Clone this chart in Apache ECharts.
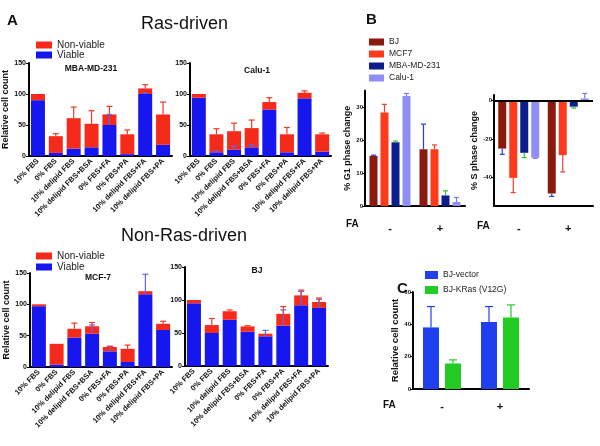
<!DOCTYPE html>
<html><head><meta charset="utf-8">
<script src="https://cdn.jsdelivr.net/npm/echarts@6/dist/echarts.min.js"></script>
<style>html,body{margin:0;padding:0;background:#fff}#c{width:600px;height:446px}</style>
</head><body><div id="c"></div>
<script>
// ---------- DATA ----------
const conditions = ['10% FBS','0% FBS','10% delipid FBS','10% delipid FBS+BSA','0% FBS+FA','0% FBS+PA','10% delipid FBS+FA','10% delipid FBS+PA'];

// MBA-MD-231
const mdaViable    = [90, 5, 12, 14, 50, 3, 100, 18];
const mdaNonviable = [10, 27, 49, 38, 17, 32, 9, 49];
const mdaTotalErr  = [0, 4, 18, 21, 13, 7, 6, 20];
const mdaViableErr = [0, 0, 0, 0, 17, 0, 2, 0];
// Calu-1
const caluViable    = [94, 6, 10, 14, 75, 6, 93, 7];
const caluNonviable = [6, 29, 30, 31, 12, 29, 9, 28];
const caluTotalErr  = [0, 9, 13, 13, 7, 11, 3, 2];
const caluViableErr = [0, 3, 6, 4, 0, 0, 0, 0];
// MCF-7
const mcfViable    = [97, 4, 47, 53, 25, 8, 116, 59];
const mcfNonviable = [3, 33, 14, 12, 7, 21, 5, 10];
const mcfTotalErr  = [0, 0, 9, 6, 1, 6, 0, 4];
const mcfViableErr = [0, 0, 0, 14, 8, 0, 32, 0];
// BJ
const bjViable    = [95, 50, 70, 52, 45, 61, 92, 88];
const bjNonviable = [5, 12, 13, 8, 4, 18, 15, 9];
const bjTotalErr  = [0, 10, 2, 1, 0, 11, 8, 6];
const bjViableErr = [0, 0, 0, 0, 9, 24, 21, 13];

// Panel B
const faGroups = ['-', '+'];
const cellLines = ['BJ', 'MCF7', 'MBA-MD-231', 'Calu-1'];
const g1Change = { 'BJ':[15.2, 17.2], 'MCF7':[28.3, 17.2], 'MBA-MD-231':[19.3, 3.2], 'Calu-1':[33.3, 1.2] };
const g1Err    = { 'BJ':[0.2, 7.6], 'MCF7':[2.5, 1.3], 'MBA-MD-231':[0.4, 1.4], 'Calu-1':[0.8, 1.4] };
const sChange  = { 'BJ':[-25, -48.5], 'MCF7':[-40.3, -28.4], 'MBA-MD-231':[-27.2, -3.1], 'Calu-1':[-29.8, 1.2] };
const sErr     = { 'BJ':[3, 1.5], 'MCF7':[7.7, 8.8], 'MBA-MD-231':[2.5, 0.7], 'Calu-1':[0.3, 2.6] };
const g1Ticks = [0, 10, 20, 30];
const sTicks = [-40, -20, 0];

// Panel C
const cLines = ['BJ-vector', 'BJ-KRas (V12G)'];
const cCount = { 'BJ-vector':[38.1, 41.4], 'BJ-KRas (V12G)':[15.8, 44.3] };
const cErr   = { 'BJ-vector':[12.9, 9.6], 'BJ-KRas (V12G)':[2.2, 7.7] };

// ---------- STYLE ----------
const FONT = '"Liberation Sans", Arial, sans-serif';
const RED = '#f52a1a', BLUE = '#1616ee';
const bColors = ['#8b1a0e', '#ff3a1c', '#0d1e8c', '#8e8ef5'];
const bErrColors = ['#2a3ad8', '#f0402a', '#3cc03c', '#7a7af0'];
const cColors = ['#2040f0', '#22cc22'];

const chart = echarts.init(document.getElementById('c'), null, {renderer:'canvas'});

const grids = [], xAxes = [], yAxes = [], series = [];

function errSeries(gi, data, color, offset, cap) {
  return {
    type:'custom', xAxisIndex:gi, yAxisIndex:gi, z:5, silent:true,
    data: data,
    renderItem: function(params, api) {
      const c = api.value(0), lo = api.value(1), hi = api.value(2);
      const p0 = api.coord([c, lo]), p1 = api.coord([c, hi]);
      const x = p0[0] + offset;
      const st = {stroke: color, lineWidth: 1.2};
      return {type:'group', children:[
        {type:'line', shape:{x1:x, y1:p0[1], x2:x, y2:p1[1]}, style:st},
        {type:'line', shape:{x1:x-cap/2, y1:p1[1], x2:x+cap/2, y2:p1[1]}, style:st}
      ]};
    }
  };
}

function aPanel(gi, rect, viable, nonviable, totErr, viaErr, showName) {
  grids.push(Object.assign({containLabel:false}, rect));
  xAxes.push({gridIndex:gi, type:'category', data:conditions,
    axisLine:{lineStyle:{color:'#000', width:2}},
    axisTick:{alignWithLabel:true, length:3, lineStyle:{color:'#000'}},
    axisLabel:{rotate:45, interval:0, fontSize:7.5, fontWeight:'bold', color:'#111', margin:4, fontFamily:FONT}});
  yAxes.push({gridIndex:gi, type:'value', min:0, max:150, interval:50,
    splitLine:{show:false},
    axisLine:{show:true, lineStyle:{color:'#000', width:2}},
    axisTick:{show:true, length:3, lineStyle:{color:'#000'}},
    axisLabel:{fontSize:7, fontWeight:'bold', color:'#111', margin:3, fontFamily:FONT},
    name: showName ? 'Relative cell count' : '', nameLocation:'middle', nameGap:16,
    nameTextStyle:{fontSize:9, fontWeight:'bold', color:'#111', fontFamily:FONT}});
  series.push({type:'bar', name:'Viable', xAxisIndex:gi, yAxisIndex:gi, stack:'st'+gi, barWidth:14, data:viable, itemStyle:{color:BLUE}});
  series.push({type:'bar', name:'Non-viable', xAxisIndex:gi, yAxisIndex:gi, stack:'st'+gi, barWidth:14, data:nonviable, itemStyle:{color:RED}});
  const vErr = [], tErr = [];
  viable.forEach((v, i) => {
    if (viaErr[i] > 0) vErr.push([i, v, v + viaErr[i]]);
    const t = v + nonviable[i];
    if (totErr[i] > 0) tErr.push([i, t, t + totErr[i]]);
  });
  series.push(errSeries(gi, vErr, '#5a6af0', 0, 6));
  series.push(errSeries(gi, tErr, '#f03a22', 0, 6));
}

aPanel(0, {left:29, top:63, width:143, height:93}, mdaViable, mdaNonviable, mdaTotalErr, mdaViableErr, true);
aPanel(1, {left:190, top:63, width:141, height:93}, caluViable, caluNonviable, caluTotalErr, caluViableErr, false);
aPanel(2, {left:30, top:273, width:142, height:94}, mcfViable, mcfNonviable, mcfTotalErr, mcfViableErr, true);
aPanel(3, {left:185, top:267, width:143, height:99}, bjViable, bjNonviable, bjTotalErr, bjViableErr, false);

function catX(gi, margin, fs) {
  return {gridIndex:gi, type:'category', data:faGroups,
    axisLine:{onZero:false, lineStyle:{color:'#000', width:2}},
    axisTick:{alignWithLabel:true, length:4, lineStyle:{color:'#000'}},
    axisLabel:{fontSize:fs, fontWeight:'bold', color:'#111', margin:margin, fontFamily:FONT}};
}
function valY(gi, min, max, ticks, name, gap, nfs) {
  return {gridIndex:gi, type:'value', min:min, max:max,
    splitLine:{show:false},
    axisLine:{show:true, onZero:false, lineStyle:{color:'#000', width:2}},
    axisTick:{show:true, length:3, customValues:ticks, lineStyle:{color:'#000'}},
    axisLabel:{fontSize:6, fontWeight:'bold', color:'#111', margin:2, customValues:ticks, fontFamily:FONT},
    name:name, nameLocation:'middle', nameGap:gap,
    nameTextStyle:{fontSize:nfs, fontWeight:'bold', color:'#111', fontFamily:FONT}};
}

// Panel B: G1
grids.push({left:365, top:90.5, width:100, height:115.5});
xAxes.push(catX(4, 17, 11));
yAxes.push(valY(4, 0, 35, g1Ticks, '% G1 phase change', 8, 9));
// Panel B: S
grids.push({left:494, top:95, width:99, height:111});
xAxes.push(catX(5, 17, 11));
yAxes.push(valY(5, -55, 3, sTicks, '% S phase change', 11, 9));

cellLines.forEach((name, k) => {
  const off = (k - 1.5) * 11;
  series.push({type:'bar', name:name, xAxisIndex:4, yAxisIndex:4, barWidth:8, barGap:'37.5%', data:g1Change[name], itemStyle:{color:bColors[k]}});
  series.push(errSeries(4, g1Change[name].map((v, i) => [i, v, v + g1Err[name][i]]), bErrColors[k], off, 5));
  const sb = {type:'bar', name:name, xAxisIndex:5, yAxisIndex:5, barWidth:8, barGap:'37.5%', data:sChange[name], itemStyle:{color:bColors[k]}};
  if (k === 0) sb.markLine = {silent:true, symbol:'none', label:{show:false}, lineStyle:{color:'#000', width:2, type:'solid'}, data:[{yAxis:0}]};
  series.push(sb);
  series.push(errSeries(5, sChange[name].map((v, i) => [i, v, v + (v >= 0 ? 1 : -1) * sErr[name][i]]), bErrColors[k], off, 5));
});

// Panel C
grids.push({left:413, top:292, width:116, height:97});
xAxes.push(catX(6, 12, 11));
yAxes.push(valY(6, 0, 60, [0, 20, 40, 60], 'Relative cell count', 13, 9.5));
cLines.forEach((name, k) => {
  const off = (k - 0.5) * 22;
  series.push({type:'bar', name:name, xAxisIndex:6, yAxisIndex:6, barWidth:16, barGap:'37.5%', data:cCount[name], itemStyle:{color:cColors[k]}});
  series.push(errSeries(6, cCount[name].map((v, i) => [i, v, v + cErr[name][i]]), cColors[k], off, 8));
});

const legendBase = {orient:'vertical', icon:'rect', selectedMode:false, padding:0,
  textStyle:{fontSize:10, color:'#222', fontFamily:FONT, lineHeight:9}};
const legends = [
  Object.assign({}, legendBase, {data:['Non-viable','Viable'], left:36, top:40, itemWidth:16, itemHeight:7, itemGap:0}),
  Object.assign({}, legendBase, {data:['Non-viable','Viable'], left:36, top:251, itemWidth:16, itemHeight:7, itemGap:1}),
  Object.assign({}, legendBase, {data:cellLines, left:369, top:37, itemWidth:15, itemHeight:7, itemGap:2, textStyle:{fontSize:8.5, color:'#222', fontFamily:FONT, lineHeight:10}}),
  Object.assign({}, legendBase, {data:cLines, left:425, top:270, itemWidth:13, itemHeight:8, itemGap:5, textStyle:{fontSize:8.5, color:'#222', fontFamily:FONT, lineHeight:10}})
];

function txt(x, y, text, size, weight, align) {
  return {type:'text', x:x, y:y, silent:true,
    style:{text:text, fontSize:size, fontWeight:weight || 'normal', fontFamily:FONT, fill:'#111',
      align: align || 'left', verticalAlign:'middle'}};
}

chart.setOption({
  animation:false,
  backgroundColor:'#fff',
  grid:grids, xAxis:xAxes, yAxis:yAxes, series:series, legend:legends,
  graphic:[
    txt(7, 21, 'A', 15, 'bold'),
    txt(366, 20, 'B', 15, 'bold'),
    txt(397, 289, 'C', 15, 'bold'),
    txt(141, 24, 'Ras-driven', 18),
    txt(121, 236, 'Non-Ras-driven', 18),
    txt(91, 69, 'MBA-MD-231', 8.5, 'bold', 'center'),
    txt(257, 71, 'Calu-1', 8.5, 'bold', 'center'),
    txt(98, 278, 'MCF-7', 8.5, 'bold', 'center'),
    txt(257, 271, 'BJ', 8.5, 'bold', 'center'),
    txt(346, 224, 'FA', 10, 'bold'),
    txt(477, 226, 'FA', 10, 'bold'),
    txt(383, 405, 'FA', 10, 'bold')
  ]
});
</script></body></html>
